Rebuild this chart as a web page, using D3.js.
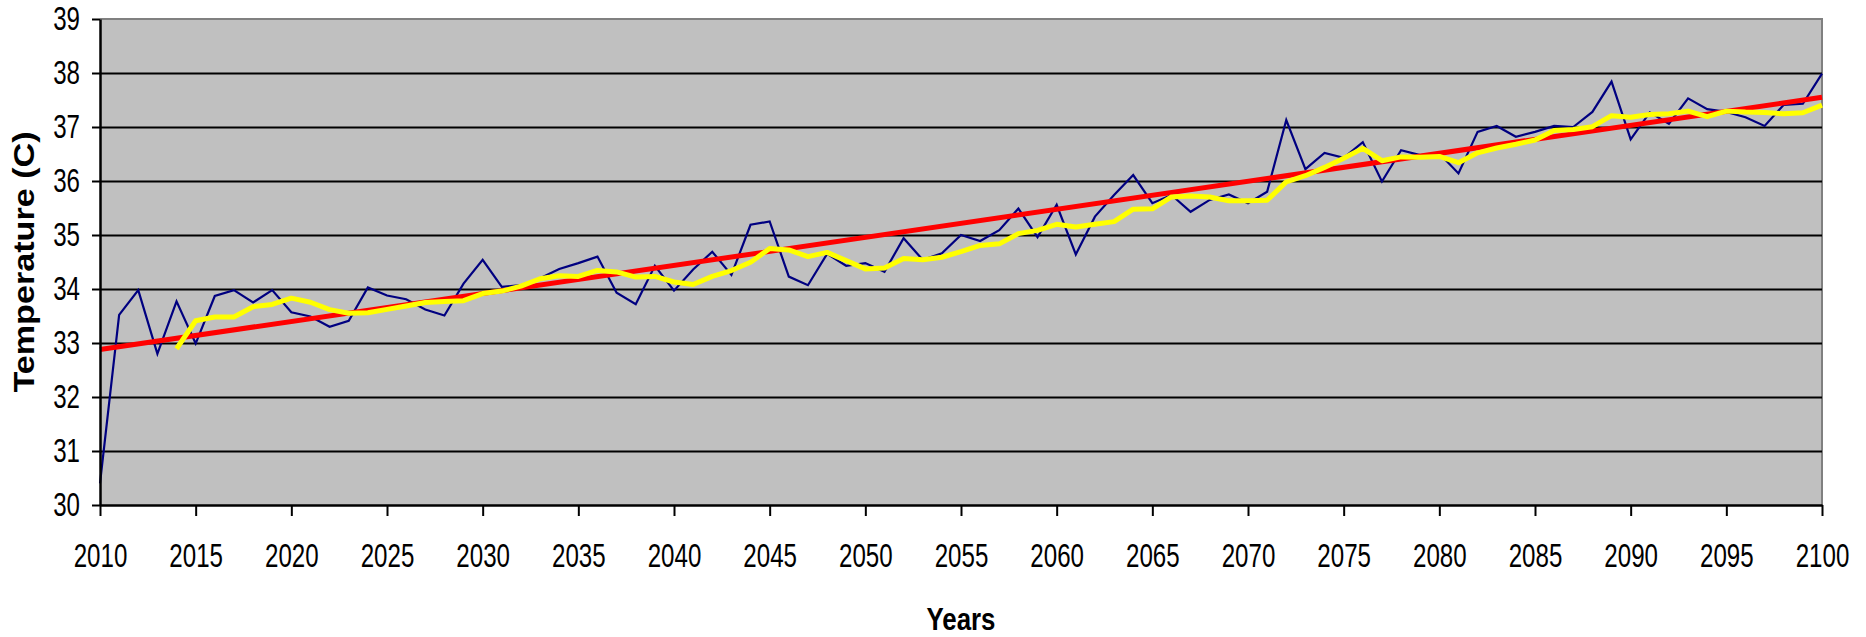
<!DOCTYPE html>
<html>
<head>
<meta charset="utf-8">
<script src="https://cdn.jsdelivr.net/npm/d3@7"></script>
<style>
  body { margin: 0; background: #fff; }
  svg { display: block; }
  .tick text { font-family: "Liberation Sans", Arial, sans-serif; font-size: 33px; fill: #000; }
</style>
</head>
<body>
<div id="chart"></div>
<script>
// yearly temperature values
var years = d3.range(2010, 2101);
var temps = [
  30.40, 33.52, 33.98, 32.80, 33.77, 32.99, 33.87, 33.98, 33.75, 33.98, // 2010-2019
  33.57, 33.49, 33.30, 33.41, 34.03, 33.88, 33.81, 33.62, 33.51, 34.10, // 2020-2029
  34.54, 34.04, 34.07, 34.20, 34.37, 34.48, 34.60, 33.93, 33.72, 34.43, // 2030-2039
  33.97, 34.36, 34.69, 34.26, 35.19, 35.25, 34.23, 34.07, 34.65, 34.43, // 2040-2049
  34.48, 34.32, 34.94, 34.54, 34.66, 35.00, 34.89, 35.09, 35.49, 34.96, // 2050-2059
  35.56, 34.64, 35.34, 35.74, 36.11, 35.59, 35.74, 35.43, 35.65, 35.75, // 2060-2069
  35.59, 35.80, 37.13, 36.22, 36.52, 36.43, 36.72, 35.99, 36.57, 36.48, // 2070-2079
  36.51, 36.14, 36.91, 37.02, 36.82, 36.91, 37.02, 37.00, 37.28, 37.84, // 2080-2089
  36.77, 37.27, 37.06, 37.53, 37.33, 37.28, 37.18, 37.02, 37.41, 37.43, // 2090-2099
  37.99                                                                  // 2100
];
// linear trend line end points
var trendYears = [2010, 2100];
var trendTemps = [32.88, 37.55];
var maPeriod = 5; // moving average period of the yellow line

var xTicks = d3.range(2010, 2101, 5);
var yTicks = d3.range(30, 40);
var gridTicks = d3.range(31, 39);

var W = 1866, H = 637;
var margin = {left: 100, right: 44, top: 19, bottom: 132};
var iw = W - margin.left - margin.right;
var ih = H - margin.top - margin.bottom;
var digitW = 13.4; // narrow look of the tick labels

var x = d3.scaleLinear().domain([2010, 2100]).range([0, iw]);
var y = d3.scaleLinear().domain([30, 39]).range([ih, 0]);

var svg = d3.select("#chart").append("svg")
  .attr("width", W)
  .attr("height", H);

var g = svg.append("g")
  .attr("transform", "translate(" + margin.left + "," + margin.top + ")");

// plot background
g.append("rect")
  .attr("width", iw)
  .attr("height", ih)
  .style("fill", "#c0c0c0");

// top and right border in grey
g.append("path")
  .attr("d", "M0,0H" + iw + "V" + ih)
  .style("fill", "none")
  .style("stroke", "#808080")
  .style("stroke-width", 2);

// horizontal gridlines
g.append("g")
  .call(d3.axisLeft(y).tickValues(gridTicks).tickSize(-iw).tickFormat(""))
  .call(function(s){
    s.select(".domain").remove();
    s.selectAll("line").style("stroke", "#000").style("stroke-width", 2);
  });

// series lines
var line = d3.line()
  .x(function(d){ return x(d[0]); })
  .y(function(d){ return y(d[1]); });

var pts = years.map(function(yr, i){ return [yr, temps[i]]; });

// moving average, like the spreadsheet trendline
var maPts = [];
for (i = maPeriod - 1; i < temps.length; i++) {
  maPts.push([years[i], d3.mean(temps.slice(i - maPeriod + 1, i + 1))]);
}

var trendPts = trendYears.map(function(yr, i){ return [yr, trendTemps[i]]; });

g.append("path")
  .datum(pts)
  .attr("d", line)
  .style("fill", "none")
  .style("stroke", "#000080")
  .style("stroke-width", 2.2)
  .style("stroke-linejoin", "miter");

g.append("path")
  .datum(trendPts)
  .attr("d", line)
  .style("fill", "none")
  .style("stroke", "#ff0000")
  .style("stroke-width", 5);

g.append("path")
  .datum(maPts)
  .attr("d", line)
  .style("fill", "none")
  .style("stroke", "#ffff00")
  .style("stroke-width", 5)
  .style("stroke-linejoin", "round");

// axes
var yAxis = g.append("g")
  .call(d3.axisLeft(y).tickValues(yTicks).tickSize(8).tickSizeOuter(0).tickPadding(12));

var xAxis = g.append("g")
  .attr("transform", "translate(0," + ih + ")")
  .call(d3.axisBottom(x).tickValues(xTicks).tickSize(11).tickSizeOuter(0).tickPadding(28).tickFormat(d3.format("d")));

[yAxis, xAxis].forEach(function(a){
  a.select(".domain").style("stroke", "#000").style("stroke-width", 2.5);
  a.selectAll(".tick line").style("stroke", "#000").style("stroke-width", 2);
  a.selectAll(".tick text")
    .attr("textLength", function(d){ return String(d).length * digitW; })
    .attr("lengthAdjust", "spacingAndGlyphs");
});

// axis titles
svg.append("text")
  .attr("transform", "translate(34," + (margin.top + ih / 2) + ") rotate(-90)")
  .attr("text-anchor", "middle")
  .attr("textLength", 261)
  .attr("lengthAdjust", "spacingAndGlyphs")
  .style("font-family", "'Liberation Sans', Arial, sans-serif")
  .style("font-weight", "bold")
  .style("font-size", "30px")
  .text("Temperature (C)");

svg.append("text")
  .attr("x", margin.left + iw / 2)
  .attr("y", 630)
  .attr("text-anchor", "middle")
  .attr("textLength", 69)
  .attr("lengthAdjust", "spacingAndGlyphs")
  .style("font-family", "'Liberation Sans', Arial, sans-serif")
  .style("font-weight", "bold")
  .style("font-size", "31px")
  .text("Years");
</script>
</body>
</html>
